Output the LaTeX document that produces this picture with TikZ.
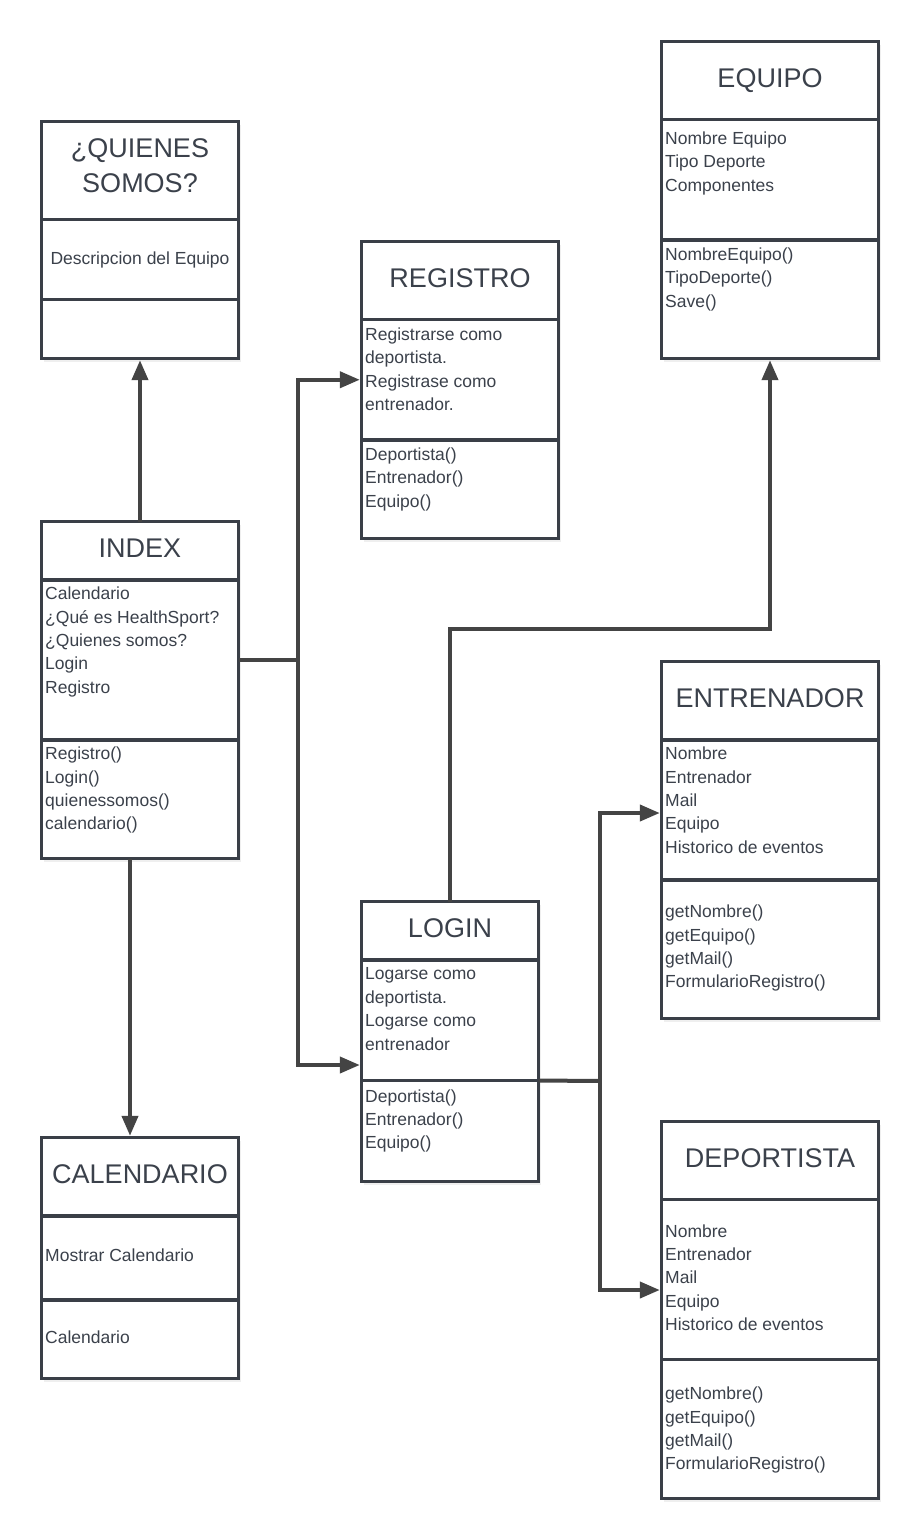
\documentclass[tikz,border=0pt]{standalone}
\usepackage{fontspec}
\setmainfont{Liberation Sans}
\usetikzlibrary{positioning,arrows.meta,shadows}
\definecolor{boxgray}{HTML}{3A3F47}
\definecolor{textgray}{HTML}{3B414B}
\definecolor{linegray}{HTML}{444444}
\tikzstyle{classpart}=[draw=boxgray,line width=3.4pt,fill=white,outer sep=0pt,inner sep=0pt,drop shadow={shadow xshift=2pt,shadow yshift=-3pt,opacity=.12}]
\tikzstyle{classhead}=[classpart,text=textgray,align=center,font=\fontsize{27}{35}\selectfont,execute at begin node=\strut,execute at end node=\strut]
\tikzstyle{classtext}=[text=textgray,align=left,anchor=north west,inner sep=0pt,yshift=-4pt,font=\fontsize{17.5}{23.4}\selectfont,execute at begin node=\strut]
\tikzstyle{myline}=[linegray,line width=4pt]
\tikzstyle{myarrow}=[myline,-{Triangle[length=20pt,width=16pt]},shorten >=1.7pt]

\begin{document}
\begin{tikzpicture}[x=1pt,y=-1pt]
		\fill[white] (0,0) rectangle (920,1540);
		\useasboundingbox (0,0) rectangle (920,1540);

		% ¿QUIENES SOMOS?
		\node[classhead,minimum width=197pt,minimum height=98pt] (quienes-t) at (140,170.5) {¿QUIENES\\SOMOS?};
		\node[classpart,minimum width=197pt,minimum height=80pt,below=0pt of quienes-t] (quienes-a) {};
		\node[classpart,minimum width=197pt,minimum height=59pt,below=0pt of quienes-a] (quienes-m) {};
		\node[classtext,anchor=north,align=center] at ([yshift=-24.3pt]quienes-a.north) {Descripcion del Equipo};

		% REGISTRO
		\node[classhead,minimum width=197pt,minimum height=78pt] (registro-t) at (460,280.5) {REGISTRO};
		\node[classpart,minimum width=197pt,minimum height=120.5pt,below=0pt of registro-t] (registro-a) {};
		\node[classpart,minimum width=197pt,minimum height=98.5pt,below=0pt of registro-a] (registro-m) {};
		\node[classtext] at ([xshift=3.5pt,yshift=-4.1pt]registro-a.north west) {Registrarse como\\deportista.\\Registrase como\\entrenador.};
		\node[classtext] at ([xshift=3.5pt,yshift=-3.6pt]registro-m.north west) {Deportista()\\Entrenador()\\Equipo()};

		% EQUIPO
		\node[classhead,minimum width=217pt,minimum height=78pt] (equipo-t) at (770,80.5) {EQUIPO};
		\node[classpart,minimum width=217pt,minimum height=120.5pt,below=0pt of equipo-t] (equipo-a) {};
		\node[classpart,minimum width=217pt,minimum height=118.5pt,below=0pt of equipo-a] (equipo-m) {};
		\node[classtext] at ([xshift=3.5pt,yshift=-8.1pt]equipo-a.north west) {Nombre Equipo\\Tipo Deporte\\Componentes};
		\node[classtext] at ([xshift=3.5pt,yshift=-3.6pt]equipo-m.north west) {NombreEquipo()\\TipoDeporte()\\Save()};

		% INDEX
		\node[classhead,minimum width=197pt,minimum height=58.5pt] (index-t) at (140,550.75) {INDEX};
		\node[classpart,minimum width=197pt,minimum height=160pt,below=0pt of index-t] (index-a) {};
		\node[classpart,minimum width=197pt,minimum height=118.5pt,below=0pt of index-a] (index-m) {};
		\node[classtext] at ([xshift=3.5pt,yshift=-2.9pt]index-a.north west) {Calendario\\¿Qué es HealthSport?\\¿Quienes somos?\\Login\\Registro};
		\node[classtext] at ([xshift=3.5pt,yshift=-2.9pt]index-m.north west) {Registro()\\Login()\\quienessomos()\\calendario()};

		% LOGIN
		\node[classhead,minimum width=177pt,minimum height=58.5pt] (login-t) at (450,930.75) {LOGIN};
		\node[classpart,minimum width=177pt,minimum height=120.5pt,below=0pt of login-t] (login-a) {};
		\node[classpart,minimum width=177pt,minimum height=101pt,below=0pt of login-a] (login-m) {};
		\node[classtext] at ([xshift=3.5pt,yshift=-3.6pt]login-a.north west) {Logarse como\\deportista.\\Logarse como\\entrenador};
		\node[classtext] at ([xshift=3.5pt,yshift=-4.8pt]login-m.north west) {Deportista()\\Entrenador()\\Equipo()};

		% ENTRENADOR
		\node[classhead,minimum width=217pt,minimum height=78.5pt] (entrenador-t) at (770,700.75) {ENTRENADOR};
		\node[classpart,minimum width=217pt,minimum height=140pt,below=0pt of entrenador-t] (entrenador-a) {};
		\node[classpart,minimum width=217pt,minimum height=138.5pt,below=0pt of entrenador-a] (entrenador-m) {};
		\node[classtext] at ([xshift=3.5pt,yshift=-2.9pt]entrenador-a.north west) {Nombre\\Entrenador\\Mail\\Equipo\\Historico de eventos};
		\node[classtext] at ([xshift=3.5pt,yshift=-20.9pt]entrenador-m.north west) {getNombre()\\getEquipo()\\getMail()\\FormularioRegistro()};

		% DEPORTISTA
		\node[classhead,minimum width=217pt,minimum height=78pt] (deportista-t) at (770,1160.5) {DEPORTISTA};
		\node[classpart,minimum width=217pt,minimum height=160pt,below=0pt of deportista-t] (deportista-a) {};
		\node[classpart,minimum width=217pt,minimum height=139pt,below=0pt of deportista-a] (deportista-m) {};
		\node[classtext] at ([xshift=3.5pt,yshift=-20.8pt]deportista-a.north west) {Nombre\\Entrenador\\Mail\\Equipo\\Historico de eventos};
		\node[classtext] at ([xshift=3.5pt,yshift=-23.4pt]deportista-m.north west) {getNombre()\\getEquipo()\\getMail()\\FormularioRegistro()};

		% CALENDARIO
		\node[classhead,minimum width=197pt,minimum height=78.5pt] (calendario-t) at (140,1176.75) {CALENDARIO};
		\node[classpart,minimum width=197pt,minimum height=84pt,below=0pt of calendario-t] (calendario-a) {};
		\node[classpart,minimum width=197pt,minimum height=78.5pt,below=0pt of calendario-a] (calendario-m) {};
		\node[classtext] at ([xshift=3.5pt,yshift=-24.9pt]calendario-a.north west) {Mostrar Calendario};
		\node[classtext] at ([xshift=3.5pt,yshift=-22.9pt]calendario-m.north west) {Calendario};

		% connectors
		\coordinate (fork1) at (298,660);
		\coordinate (fork2) at (600,1081);
		\coordinate (bend) at (450,629);
		\draw[myarrow] (index-t.north) -- (quienes-m.south);
		\draw[myline] (index-a.east) -- (fork1);
		\draw[myarrow] (fork1) |- (registro-a.west);
		\draw[myarrow] (fork1) |- ([yshift=15.5pt]login-a.south west);
		\draw[myarrow] ([xshift=-10pt]index-m.south) -- ([xshift=-10pt]calendario-t.north);
		\draw[myarrow] (login-t.north) -- (bend) -| (equipo-m.south);
		\draw[myline] (login-m.north east) -- (fork2);
		\draw[myarrow] (fork2) |- ([yshift=-3pt]entrenador-a.west);
		\draw[myarrow] (fork2) |- ([yshift=-10.5pt]deportista-a.west);
	\end{tikzpicture}
\end{document}
